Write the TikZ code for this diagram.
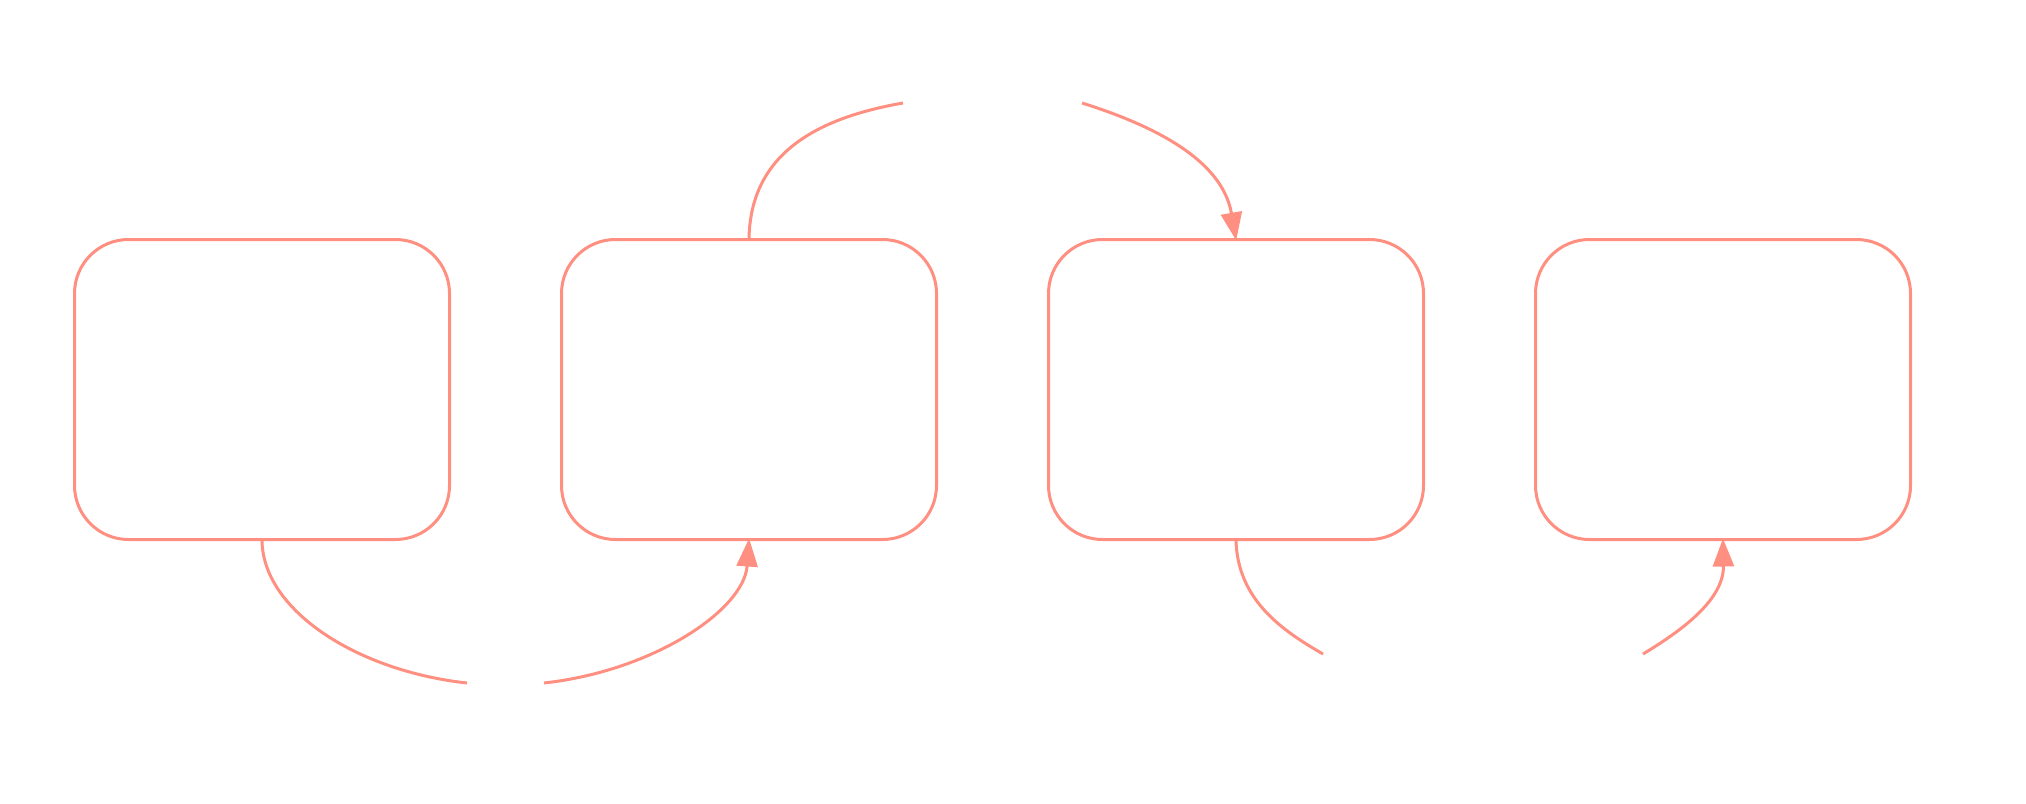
\documentclass[tikz,border=0pt]{standalone}
\usetikzlibrary{arrows.meta}
\definecolor{salmon}{RGB}{255,143,128}
\begin{document}
\begin{tikzpicture}[x=1pt,y=-1pt,
  boxnode/.style={draw=salmon,line width=3pt,rounded corners=54pt,minimum width=375pt,minimum height=300pt,inner sep=0pt,outer sep=0pt},
  conn/.style={draw=salmon,line width=3pt},
  tipped/.style={conn,-{Triangle[length=28pt,width=21pt]},shorten >=-1pt}]
\useasboundingbox (0,0) rectangle (2026,803);
\node[boxnode] (b1) at (262,389.5) {};
\node[boxnode] (b2) at (749,389.5) {};
\node[boxnode] (b3) at (1236,389.5) {};
\node[boxnode] (b4) at (1723,389.5) {};
\coordinate (e1a) at (467,683);
\coordinate (e1b) at (544,683);
\coordinate (e2a) at (903,103);
\coordinate (e2b) at (1082,103);
\coordinate (e3a) at (1323,654);
\coordinate (e3b) at (1643,654);
\draw[conn] (b1.south) .. controls (262,610) and (357,671) .. (e1a);
\draw[tipped] (e1b) .. controls (653,671) and (744,610) .. (b2.south);
\draw[conn] (b2.north) .. controls (750,150) and (823,117) .. (e2a);
\draw[tipped] (e2b) .. controls (1152,125) and (1222,159) .. (b3.north);
\draw[conn] (b3.south) .. controls (1237,600) and (1283,631) .. (e3a);
\draw[tipped] (e3b) .. controls (1681,631) and (1724,600) .. (b4.south);
\end{tikzpicture}
\end{document}
